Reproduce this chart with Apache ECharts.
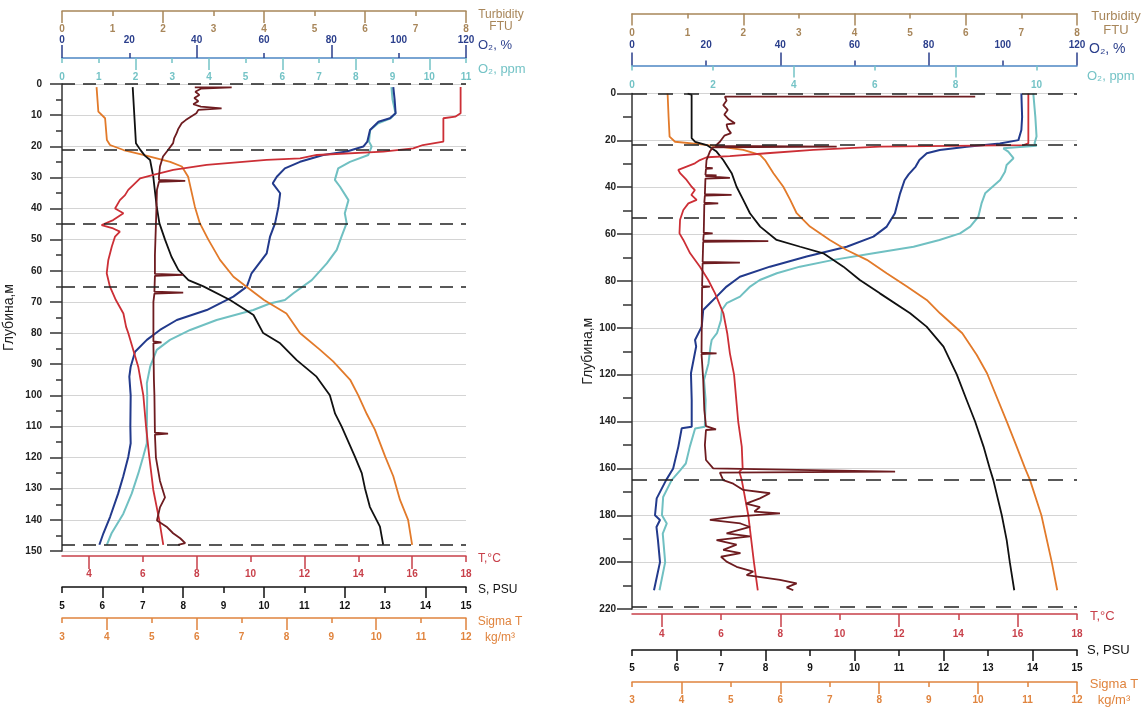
<!DOCTYPE html>
<html><head><meta charset="utf-8">
<script src="https://cdn.jsdelivr.net/npm/echarts@6/dist/echarts.min.js"></script>
<style>html,body{margin:0;padding:0;background:#fff}#c{width:1143px;height:710px}</style>
</head><body><div id="c"></div><script>
// ---------- tick label arrays ----------
const turbLabels = [0,1,2,3,4,5,6,7,8], turbMajor = [0,2,4,6,8], turbMinor = [1,3,5,7];
const o2pLabels = [0,20,40,60,80,100,120], o2pMajor = [0,40,80,120], o2pMinor = [20,60,100];
const ppmLabelsL = [0,1,2,3,4,5,6,7,8,9,10,11], ppmMajorL = [2,4,6,8,10], ppmMinorL = [0,1,3,5,7,9,11];
const ppmLabelsR = [0,2,4,6,8,10], ppmMajorR = [4,8], ppmMinorR = [0,2,6,10];
const tLabels = [4,6,8,10,12,14,16,18], tMajor = [4,8,12,16], tMinor = [6,10,14,18];
const sLabels = [5,6,7,8,9,10,11,12,13,14,15], sMajor = [6,8,10,12,14], sMinor = [5,7,9,11,13,15];
const sigLabels = [3,4,5,6,7,8,9,10,11,12], sigMajor = [4,6,8,10,12], sigMinor = [3,5,7,9,11];
const dashDepthsLeft = [0,21,45,65,148];
const dashDepthsRight = [0,22,53,165,219];

// ---------- left profile: [value, depth] ----------
const leftTurb = [[2.63,1.1],[3.36,1.1],[2.75,1.5],[2.64,2.5],[2.72,3.5],[2.62,4.5],[2.70,5.5],[2.60,6.5],[2.75,7.3],[3.16,7.8],[2.70,8.3],[2.66,9.4],[2.55,10.5],[2.45,11.6],[2.37,12.6],[2.30,14.5],[2.27,15.8],[2.22,17.5],[2.20,19],[2.10,21.2],[2.00,23.3],[1.94,26.5],[1.92,29.8],[1.92,30.8],[2.44,31.1],[1.92,31.4],[1.88,34],[1.87,40],[1.86,45],[1.85,50],[1.84,55],[1.84,61],[2.40,61.3],[1.84,61.6],[1.83,66.7],[2.40,67],[1.83,67.3],[1.81,70],[1.81,82.7],[1.97,83],[1.81,83.3],[1.82,95],[1.83,100],[1.84,112],[2.10,112.3],[1.84,112.6],[1.86,120],[1.94,127.5],[2.04,132.8],[1.94,136],[1.88,140.2],[2.07,142.2],[2.20,144.3],[2.34,145.9],[2.44,147.5],[2.30,148]];
const leftO2pct = [[98.4,1],[98.8,5],[99.1,9.4],[97.4,11],[94.0,12.1],[91.5,14.8],[90.7,18.5],[89.5,20.1],[84.6,21.7],[77.6,22.8],[70.7,25],[66.2,27.1],[63.8,29.8],[62.6,31.9],[64.8,35.1],[64.3,39.4],[63.3,44.7],[61.8,49],[60.8,54.4],[56.3,60.8],[54.9,65.1],[50.9,68.3],[43,72.6],[34.1,75.8],[29.1,79],[25.2,82.2],[21.7,86],[20.4,90.8],[20.0,94],[20.4,100],[20.3,110],[20.4,115.4],[19.7,119.7],[18.2,126],[16.7,131.5],[14.3,139],[12.3,144.3],[11.1,148]];
const leftO2ppm = [[8.97,1],[9.0,5],[9.08,9.4],[8.95,11],[8.61,12.6],[8.39,14.8],[8.36,18.5],[8.43,20.1],[8.34,22.8],[7.84,25],[7.52,27.1],[7.43,30.8],[7.57,33],[7.80,37.3],[7.70,41.5],[7.75,44.7],[7.61,49],[7.48,53.3],[7.21,57.6],[6.80,63],[6.30,67.2],[6.07,69.4],[5.66,70.5],[5.21,72.6],[4.21,75.8],[3.49,79],[2.94,82.2],[2.58,85.4],[2.40,90.8],[2.31,96.1],[2.32,100],[2.31,110],[2.31,115.4],[2.21,119.7],[2.08,125],[1.90,131.5],[1.67,138],[1.35,144.3],[1.22,148]];
const leftT = [[17.8,1],[17.8,9.4],[17.6,10.5],[17.16,11],[17.16,18.5],[16.4,19.6],[16.04,20.7],[14.93,21.7],[12.46,22.8],[11.84,23.9],[10.6,24.4],[8.37,26],[7.13,27.6],[6.39,29.2],[5.9,30.3],[5.71,31.9],[5.46,34],[5.34,35.7],[5.15,37.3],[4.97,40],[5.28,41.5],[4.9,43.7],[4.47,45.3],[4.9,46.4],[5.15,47.4],[4.97,49],[4.85,52.2],[4.72,56.5],[4.66,60.8],[4.78,65.1],[5.0,69.4],[5.28,73.7],[5.38,78],[5.46,80],[5.83,90.8],[6.02,100],[6.12,110],[6.24,119.7],[6.39,130.4],[6.61,140],[6.76,148]];
const leftS = [[6.75,1],[6.79,10],[6.83,19],[6.93,21],[7.05,23],[7.18,24.4],[7.26,29.8],[7.34,39],[7.41,44.7],[7.55,50],[7.71,55.5],[7.88,59.7],[8.13,63],[8.5,65],[9.16,69.4],[9.74,74.2],[9.98,80],[10.40,83.3],[10.81,88.7],[11.3,94],[11.63,100],[11.76,105.9],[11.92,110],[12.25,119.7],[12.42,125],[12.5,129.9],[12.62,135.8],[12.87,142.2],[12.95,148]];
const leftSigma = [[3.77,1],[3.81,8.9],[3.96,11],[4.0,18],[4.07,19.6],[4.37,21.2],[4.81,22.8],[5.41,25],[5.67,26.5],[5.81,29.8],[5.96,39.4],[6.07,44.7],[6.26,50],[6.52,56.5],[6.82,61.9],[7.11,65.1],[7.5,69.4],[8.0,73.7],[8.30,80],[8.75,85.4],[9.04,89.1],[9.42,95],[9.60,100],[9.79,106],[9.97,111],[10.2,119.7],[10.38,126],[10.53,133.6],[10.71,140],[10.8,148]];

// ---------- right profile: [value, depth] ----------
const rightTurb = [[6.17,1.3],[1.67,1.3],[1.70,3],[1.64,5],[1.72,7],[1.66,9],[1.74,11],[1.85,12.7],[1.70,13.2],[1.72,15],[1.78,16.9],[1.66,18],[1.58,20.6],[1.50,22.4],[3.68,22.7],[1.45,23],[1.40,24.8],[1.34,28.4],[1.33,31.6],[1.45,31.9],[1.33,32.2],[1.32,34.7],[1.52,35],[1.32,35.3],[1.32,35.7],[1.76,36],[1.32,36.3],[1.31,43],[1.79,43.3],[1.31,43.6],[1.30,46.6],[1.55,46.9],[1.30,47.2],[1.29,59.4],[1.45,59.7],[1.29,60],[1.28,62.7],[2.45,63],[1.28,63.3],[1.27,71.9],[1.94,72.2],[1.27,72.5],[1.26,82.2],[1.40,82.4],[1.26,82.7],[1.25,110.6],[1.52,110.9],[1.25,111.2],[1.28,122],[1.30,135],[1.33,142],[1.51,143.3],[1.33,143.6],[1.31,150],[1.33,156.4],[1.46,160],[4.73,161.4],[1.58,161.8],[1.64,165],[1.82,166.5],[2.0,169.2],[2.48,170.6],[2.30,172.8],[2.05,175],[2.30,176.5],[2.20,178.4],[2.66,179.2],[1.85,180.6],[1.40,182],[1.95,183.5],[2.12,185],[1.70,187.7],[2.12,189],[1.52,190.6],[1.88,192.5],[1.64,194.8],[1.95,196.2],[1.60,197.7],[1.70,199.8],[1.88,202],[2.18,204],[2.06,205.5],[2.66,207.6],[2.96,209.1],[2.78,210.8],[2.90,212]];
const rightO2pct = [[105.0,0],[105.2,10],[105.0,15.6],[104.2,19.9],[99.2,21.3],[90.3,22.7],[83,24.1],[79.5,25.5],[77.5,28.4],[76.5,31.2],[74.6,34.5],[73.5,37],[72.3,42.6],[70.9,51.1],[68.7,56.8],[65.1,61.1],[57.9,65.4],[47.1,69.6],[37.2,73.9],[29.1,78.2],[25.5,82.4],[22.8,86.7],[21.0,89.5],[19.2,92.4],[18.8,99.5],[17.0,105.2],[17.3,108],[15.9,119.4],[16.1,130.8],[16.1,142.2],[13.4,142.9],[12.5,150.7],[11.1,160],[9.2,165],[6.66,172.8],[6.2,180],[7.55,182],[6.6,185],[7.0,190.6],[7.55,200],[5.93,212]];
const rightO2ppm = [[9.92,0],[9.97,10],[10.0,18.3],[9.95,21.3],[10.0,22.3],[9.18,23.4],[9.3,24.8],[9.43,27.6],[9.26,30.5],[9.22,33.4],[9.10,36.9],[8.73,42.6],[8.64,46.9],[8.56,52.6],[8.36,56.8],[8.11,59.7],[7.6,62.5],[6.96,65.4],[5.97,68.2],[4.98,71],[4.15,73.9],[3.58,76.7],[3.16,79.6],[2.92,82.4],[2.67,86.7],[2.34,89.5],[2.22,92.4],[2.20,96.7],[2.10,102.3],[1.97,105.2],[1.94,108],[1.89,115.2],[1.78,122.3],[1.82,130.8],[1.80,142.2],[1.56,143],[1.43,150.7],[1.33,157.9],[1.19,160.8],[0.98,165],[0.77,172.2],[0.74,180],[0.86,183.5],[0.76,187.8],[0.82,200],[0.68,212]];
const rightT = [[16.36,0],[16.36,21.3],[16.2,22],[11.36,22.7],[9.11,24.1],[7.54,25.5],[6.30,26.7],[5.52,27.2],[5.29,28.4],[5.12,29.8],[4.84,31.2],[4.56,32.6],[4.62,34],[4.84,36.9],[5.01,39.8],[5.12,41.2],[5.0,43.3],[5.18,45.4],[4.90,46.9],[4.73,49.7],[4.62,53.9],[4.6,59.7],[4.73,62.5],[4.96,68.2],[5.29,73.9],[5.57,79.6],[5.80,85.3],[6.08,93.8],[6.21,102.3],[6.30,110.9],[6.44,120],[6.58,140],[6.70,150.7],[6.73,160],[6.62,161.4],[6.70,165],[6.92,180],[7.11,200],[7.24,212]];
const rightS = [[6.25,0],[6.34,0.6],[6.34,19],[6.42,20.6],[6.68,22],[6.90,24.8],[7.05,28.4],[7.24,34],[7.35,39.8],[7.50,45.4],[7.65,51.1],[7.88,56.8],[8.25,62.5],[8.78,65.4],[9.30,68.2],[9.75,73.9],[10.12,79.6],[10.57,85.3],[11.25,93.8],[11.62,99.5],[12.0,108],[12.30,120],[12.52,130.8],[12.71,140],[12.90,150.7],[13.04,160],[13.12,165],[13.31,180],[13.42,190.6],[13.49,200],[13.59,212]];
const rightSigma = [[3.72,0],[3.74,10],[3.76,18.4],[3.87,20.6],[4.31,21.5],[4.78,22.7],[5.25,24.1],[5.59,26.2],[5.69,28.4],[5.86,34],[6.06,39.8],[6.20,45.4],[6.33,51.1],[6.60,56.8],[7.0,62.5],[7.34,66.8],[7.75,71],[8.15,76.7],[8.56,82.4],[8.96,88.1],[9.23,93.8],[9.68,102.3],[9.97,111.5],[10.18,119.4],[10.58,140],[10.78,150.7],[10.95,160],[11.05,165],[11.28,180],[11.49,200],[11.6,212]];

// ---------- styling ----------
const FONT = '"Liberation Sans", Arial, sans-serif';
const C = {
  turbAx:'#a8865a', o2pLine:'#4d86c4', o2pLab:'#2b3f8c', ppm:'#74c3c6',
  tAx:'#c8404a', sAx:'#111', sigAx:'#e0843e',
  T:'#cc2f36', S:'#111111', sig:'#e27a2a', o2p:'#223a8c', o2ppm:'#70c0c2', turb:'#6e1c20'
};

function scaleAxes(g, min, max, pos, offset, labels, major, minor, c) {
  const base = {type:'value', gridIndex:g, min:min, max:max, position:pos, offset:offset, splitLine:{show:false}, silent:true};
  return [
    Object.assign({}, base, {
      axisLine:{show:c.showLine !== false, onZero:false, lineStyle:{color:c.line, width:1.5}},
      axisTick:{show:true, inside:c.tickInside, length:c.minorLen, customValues:minor, lineStyle:{color:c.tick, width:1.5}},
      axisLabel:{show:true, inside:c.labelInside, margin:c.margin, customValues:labels, color:c.label, fontSize:10, fontWeight:'bold', fontFamily:FONT}
    }),
    Object.assign({}, base, {
      axisLine:{show:false, onZero:false},
      axisTick:{show:true, inside:c.tickInside, length:c.majorLen, customValues:major, lineStyle:{color:c.tick, width:1.5}},
      axisLabel:{show:false}
    })
  ];
}

const xAxes = [];
function addScale(arr) { const idx = xAxes.length; xAxes.push(arr[0], arr[1]); return idx; }

function buildPanel(g, P) {
  const ix = {};
  ix.turb = addScale(scaleAxes(g, 0, 8, 'top', P.turbOff, turbLabels, turbMajor, turbMinor,
    {line:C.turbAx, tick:C.turbAx, label:C.turbAx, majorLen:12, minorLen:5, tickInside:true, labelInside:true, margin:P.turbM}));
  ix.o2p = addScale(scaleAxes(g, 0, 120, 'top', P.o2Off, o2pLabels, o2pMajor, o2pMinor,
    {line:C.o2pLine, tick:C.o2pLab, label:C.o2pLab, majorLen:13, minorLen:5, tickInside:false, labelInside:false, margin:P.o2pM}));
  ix.ppm = addScale(scaleAxes(g, 0, 11, 'top', P.o2Off, P.ppmLabels, P.ppmMajor, P.ppmMinor,
    {showLine:false, line:C.ppm, tick:C.ppm, label:C.ppm, majorLen:12, minorLen:5, tickInside:true, labelInside:true, margin:P.ppmM}));
  ix.t = addScale(scaleAxes(g, 3, 18, 'bottom', P.tOff, tLabels, tMajor, tMinor,
    {line:C.tAx, tick:C.tAx, label:C.tAx, majorLen:13, minorLen:6, tickInside:false, labelInside:false, margin:P.tM}));
  ix.s = addScale(scaleAxes(g, 5, 15, 'bottom', P.sOff, sLabels, sMajor, sMinor,
    {line:C.sAx, tick:C.sAx, label:C.sAx, majorLen:11, minorLen:6, tickInside:false, labelInside:false, margin:P.sM}));
  ix.sig = addScale(scaleAxes(g, 3, 12, 'bottom', P.sigOff, sigLabels, sigMajor, sigMinor,
    {line:C.sigAx, tick:C.sigAx, label:C.sigAx, majorLen:12, minorLen:5, tickInside:false, labelInside:false, margin:P.sigM}));
  return ix;
}

const L = buildPanel(0, {turbOff:73, turbM:13, o2Off:26, o2pM:13, ppmM:14, ppmLabels:ppmLabelsL, ppmMajor:ppmMajorL, ppmMinor:ppmMinorL,
  tOff:5, tM:13, sOff:36, sM:14, sigOff:67, sigM:14});
const R = buildPanel(1, {turbOff:80, turbM:15, o2Off:28, o2pM:15, ppmM:15, ppmLabels:ppmLabelsR, ppmMajor:ppmMajorR, ppmMinor:ppmMinorR,
  tOff:5, tM:15, sOff:41, sM:13, sigOff:73, sigM:13});

function yAx(g, max, interval, majLen, minLen, gap, margin) {
  return {type:'value', gridIndex:g, inverse:true, min:0, max:max, interval:interval,
    name:'Глубина,м', nameLocation:'middle', nameRotate:90, nameGap:gap,
    nameTextStyle:{fontFamily:FONT, fontSize:14, color:'#222'},
    axisLine:{show:true, onZero:false, lineStyle:{color:'#333', width:1.5}},
    axisTick:{show:true, length:majLen, lineStyle:{color:'#333', width:1.5}},
    minorTick:{show:true, splitNumber:2, length:minLen, lineStyle:{color:'#333', width:1.5}},
    axisLabel:{margin:margin, color:'#222', fontSize:10, fontWeight:'bold', fontFamily:FONT},
    splitLine:{show:true, lineStyle:{color:'#d4d4d4', width:1}}};
}

function prof(data, xi, yi, color, w) {
  return {type:'line', data:data, xAxisIndex:xi, yAxisIndex:yi, showSymbol:false, symbol:'none',
    lineStyle:{color:color, width:w}, itemStyle:{color:color}, animation:false, silent:true};
}
function dashes(xi, yi, depths, dash) {
  return {type:'line', data:[], xAxisIndex:xi, yAxisIndex:yi, silent:true,
    markLine:{silent:true, symbol:'none', animation:false, label:{show:false},
      lineStyle:{type:dash, color:'#222', width:1.7}, data:depths.map(d => ({yAxis:d}))}};
}

const series = [
  dashes(L.turb, 0, dashDepthsLeft, [13,8]),
  prof(leftO2ppm, L.ppm, 0, C.o2ppm, 2),
  prof(leftO2pct, L.o2p, 0, C.o2p, 2),
  prof(leftSigma, L.sig, 0, C.sig, 1.8),
  prof(leftS, L.s, 0, C.S, 1.8),
  prof(leftT, L.t, 0, C.T, 1.8),
  prof(leftTurb, L.turb, 0, C.turb, 1.8),
  dashes(R.turb, 1, dashDepthsRight, [15,11]),
  prof(rightO2ppm, R.ppm, 1, C.o2ppm, 2),
  prof(rightO2pct, R.o2p, 1, C.o2p, 2),
  prof(rightSigma, R.sig, 1, C.sig, 1.8),
  prof(rightS, R.s, 1, C.S, 1.8),
  prof(rightT, R.t, 1, C.T, 1.8),
  prof(rightTurb, R.turb, 1, C.turb, 1.8)
];

const graphics = [
  {type:'text', x:501, y:9, silent:true, style:{text:'Turbidity\nFTU', fill:C.turbAx, font:'12px '+FONT, align:'center', lineHeight:12}},
  {type:'text', x:478, y:39, silent:true, style:{text:'O₂, %', fill:C.o2pLab, font:'13px '+FONT}},
  {type:'text', x:478, y:63, silent:true, style:{text:'O₂, ppm', fill:C.ppm, font:'13px '+FONT}},
  {type:'text', x:478, y:553, silent:true, style:{text:'T,°C', fill:C.tAx, font:'12px '+FONT}},
  {type:'text', x:478, y:584, silent:true, style:{text:'S, PSU', fill:'#111', font:'12px '+FONT}},
  {type:'text', x:500, y:614, silent:true, style:{text:'Sigma T\nkg/m³', fill:C.sigAx, font:'12px '+FONT, align:'center', lineHeight:16}},
  {type:'text', x:1116, y:9, silent:true, style:{text:'Turbidity\nFTU', fill:C.turbAx, font:'13px '+FONT, align:'center', lineHeight:14}},
  {type:'text', x:1089, y:42, silent:true, style:{text:'O₂, %', fill:C.o2pLab, font:'14px '+FONT}},
  {type:'text', x:1087, y:70, silent:true, style:{text:'O₂, ppm', fill:C.ppm, font:'13px '+FONT}},
  {type:'text', x:1090, y:610, silent:true, style:{text:'T,°C', fill:C.tAx, font:'13px '+FONT}},
  {type:'text', x:1087, y:644, silent:true, style:{text:'S, PSU', fill:'#111', font:'13px '+FONT}},
  {type:'text', x:1114, y:676, silent:true, style:{text:'Sigma T\nkg/m³', fill:C.sigAx, font:'13px '+FONT, align:'center', lineHeight:16}}
];

const chart = echarts.init(document.getElementById('c'), null, {renderer:'canvas'});
chart.setOption({
  animation:false,
  backgroundColor:'#fff',
  textStyle:{fontFamily:FONT},
  grid:[
    {left:62, top:84, width:404, height:467},
    {left:632, top:93.5, width:445, height:515.5}
  ],
  xAxis:xAxes,
  yAxis:[yAx(0, 150, 10, 12, 6, 46, 20), yAx(1, 220, 20, 15, 9, 36, 16)],
  series:series,
  graphic:graphics
});
</script></body></html>
